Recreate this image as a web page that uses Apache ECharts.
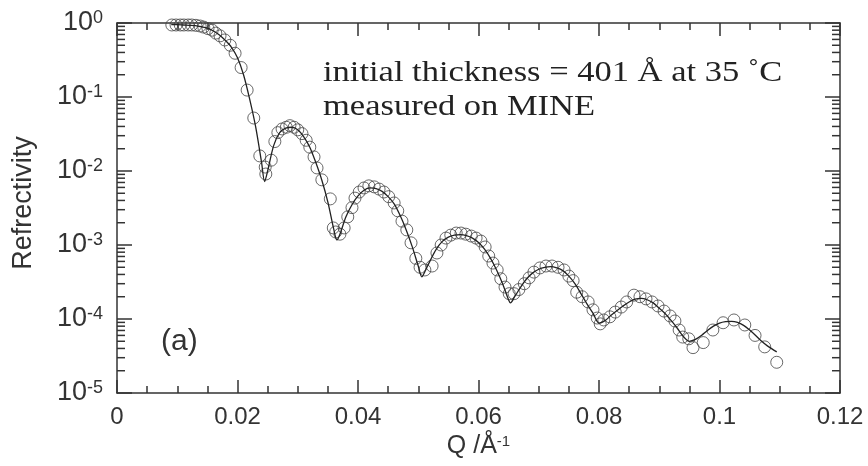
<!DOCTYPE html>
<html>
<head>
<meta charset="utf-8">
<script src="https://cdn.jsdelivr.net/npm/echarts@6/dist/echarts.min.js"></script>
<style>
  html, body { margin: 0; padding: 0; background: #fff; }
  #main { width: 868px; height: 466px; }
</style>
</head>
<body>
<div id="main"></div>
<script>
// measured reflectivity (circles)
var dataQ = [0.0091, 0.0098, 0.0105, 0.0111, 0.0118, 0.0124, 0.0131, 0.0138, 0.0144, 0.0151,
    0.0158, 0.0164, 0.0171, 0.0179, 0.0188, 0.0196, 0.0206, 0.0216, 0.0227, 0.0237,
    0.0246, 0.0247, 0.0256, 0.0262, 0.0267, 0.0274, 0.0281, 0.0287, 0.0294, 0.0300,
    0.0307, 0.0314, 0.0320, 0.0327, 0.0332, 0.0340, 0.0354, 0.0359, 0.0363, 0.0370,
    0.0377, 0.0383, 0.0390, 0.0395, 0.0402, 0.0410, 0.0418, 0.0427, 0.0435, 0.0443,
    0.0451, 0.0460, 0.0466, 0.0473, 0.0481, 0.0488, 0.0496, 0.0503, 0.0511, 0.0523,
    0.0531, 0.0538, 0.0546, 0.0554, 0.0563, 0.0571, 0.0579, 0.0588, 0.0596, 0.0604,
    0.0611, 0.0617, 0.0624, 0.0631, 0.0637, 0.0644, 0.0651, 0.0659, 0.0667, 0.0676,
    0.0684, 0.0692, 0.0702, 0.0712, 0.0722, 0.0732, 0.0742, 0.0750, 0.0757, 0.0763,
    0.0772, 0.0782, 0.0790, 0.0797, 0.0802, 0.0808, 0.0818, 0.0827, 0.0837, 0.0846,
    0.0858, 0.0868, 0.0878, 0.0888, 0.0898, 0.0908, 0.0918, 0.0926, 0.0933, 0.0939,
    0.0949, 0.0956, 0.0973, 0.0989, 0.1006, 0.1024, 0.1042, 0.1059, 0.1075, 0.1095];
var dataR = [0.94, 0.94, 0.94, 0.94, 0.94, 0.94, 0.93, 0.91, 0.88, 0.84,
    0.80, 0.73, 0.67, 0.59, 0.50, 0.39, 0.25, 0.124, 0.052, 0.016,
    0.0113, 0.0091, 0.014, 0.025, 0.033, 0.037, 0.039, 0.041, 0.039, 0.036,
    0.032, 0.026, 0.021, 0.0155, 0.011, 0.0076, 0.0042, 0.0017, 0.0015, 0.0014,
    0.0017, 0.0024, 0.0032, 0.0043, 0.0052, 0.0059, 0.0063, 0.0061, 0.0057, 0.0052,
    0.0045, 0.0037, 0.0029, 0.0021, 0.0016, 0.00107, 0.00066, 0.00050, 0.00046, 0.00052,
    0.00078, 0.0010, 0.00124, 0.00136, 0.00145, 0.00145, 0.0014, 0.00132, 0.00124, 0.00113,
    0.00094, 0.00071, 0.00057, 0.00046, 0.00035, 0.00027, 0.00022, 0.00022, 0.00025, 0.00030,
    0.00036, 0.00043, 0.00049, 0.00052, 0.00052, 0.00050, 0.00046, 0.00038, 0.00033, 0.00023,
    0.00020, 0.00017, 0.000133, 0.000103, 0.000086, 0.000097, 0.000107, 0.000124, 0.000145, 0.00017,
    0.00021, 0.00020, 0.000187, 0.00017, 0.00015, 0.000128, 0.00011, 0.000094, 0.000071, 0.000057,
    0.000054, 0.000041, 0.000048, 0.000071, 0.000089, 0.000097, 0.000083, 0.000060, 0.000042, 0.000026];

// fitted curve (solid line)
var fitQ = [0.009, 0.010, 0.011, 0.012, 0.013, 0.014, 0.015, 0.016, 0.017, 0.018,
    0.019, 0.020, 0.021, 0.022, 0.023, 0.024, 0.0245, 0.025, 0.026, 0.027,
    0.028, 0.029, 0.030, 0.031, 0.032, 0.033, 0.034, 0.035, 0.036, 0.0365,
    0.037, 0.038, 0.039, 0.040, 0.041, 0.042, 0.043, 0.044, 0.045, 0.046,
    0.047, 0.048, 0.049, 0.050, 0.0506, 0.051, 0.052, 0.053, 0.054, 0.055,
    0.056, 0.057, 0.058, 0.059, 0.060, 0.061, 0.062, 0.063, 0.064, 0.065,
    0.0653, 0.066, 0.067, 0.068, 0.069, 0.070, 0.071, 0.072, 0.073, 0.074,
    0.075, 0.076, 0.077, 0.078, 0.079, 0.080, 0.081, 0.082, 0.083, 0.084,
    0.085, 0.086, 0.087, 0.088, 0.089, 0.090, 0.091, 0.092, 0.093, 0.094,
    0.095, 0.096, 0.097, 0.098, 0.099, 0.100, 0.101, 0.102, 0.103, 0.104,
    0.105, 0.106, 0.107, 0.108, 0.1095];
var fitR = [0.95, 0.95, 0.94, 0.93, 0.92, 0.89, 0.85, 0.78, 0.69, 0.58,
    0.47, 0.34, 0.20, 0.095, 0.040, 0.013, 0.0072, 0.010, 0.022, 0.033,
    0.038, 0.039, 0.036, 0.029, 0.021, 0.013, 0.0075, 0.0038, 0.0016, 0.00117,
    0.0014, 0.0024, 0.0035, 0.0046, 0.0055, 0.0059, 0.0058, 0.0053, 0.0045, 0.0036,
    0.0025, 0.0016, 0.00095, 0.00052, 0.00037, 0.00042, 0.00062, 0.00088, 0.00112, 0.00128,
    0.00136, 0.00138, 0.00134, 0.00124, 0.00108, 0.00088, 0.00066, 0.00046, 0.00030, 0.00018,
    0.000165, 0.00020, 0.00027, 0.00035, 0.00042, 0.00047, 0.00050, 0.00051, 0.00049, 0.00045,
    0.00038, 0.00030, 0.00022, 0.00016, 0.00012, 0.000088, 0.000095, 0.000112, 0.00013, 0.00015,
    0.00017, 0.000185, 0.00019, 0.000182, 0.000165, 0.00014, 0.000118, 0.000095, 0.000075, 0.000058,
    0.000050, 0.000053, 0.000060, 0.000070, 0.000080, 0.000088, 0.000092, 0.000093, 0.000090, 0.000082,
    0.000071, 0.000060, 0.000050, 0.000043, 0.000036];

// log axis minor ticks: mantissas 2..9 in each decade
var decades = [1e-5, 1e-4, 1e-3, 1e-2, 1e-1];
var mantissas = [2, 3, 4, 5, 6, 7, 8, 9];

var noteLines = ['initial thickness = 401 Å at 35 ˚C', 'measured on MINE'];
var panelTag = '(a)';

var minorVals = [];
decades.forEach(function (d) {
    mantissas.forEach(function (m) { minorVals.push([0, m * d]); });
});

var axisColor = '#333';
var labelFont = 'Liberation Sans';

var myChart = echarts.init(document.getElementById('main'));

// fresh axis objects each call, onZero off so the mirrored axes stay on their own side
function xAxisOpt(pos) {
    return {
        type: 'value',
        position: pos,
        min: 0,
        max: 0.12,
        interval: 0.02,
        splitLine: { show: false },
        axisLine: { show: true, onZero: false, lineStyle: { color: axisColor, width: 1.5 } },
        axisTick: { show: true, inside: true, length: 13, lineStyle: { color: axisColor, width: 1.5 } },
        minorTick: { show: true, splitNumber: 4, length: 7, lineStyle: { color: axisColor, width: 1.5 } },
        axisLabel: { show: false }
    };
}
function yAxisOpt(pos) {
    return {
        type: 'log',
        position: pos,
        logBase: 10,
        min: 1e-5,
        max: 1,
        splitLine: { show: false },
        axisLine: { show: true, onZero: false, lineStyle: { color: axisColor, width: 1.5 } },
        axisTick: { show: true, inside: true, length: 15, lineStyle: { color: axisColor, width: 1.5 } },
        axisLabel: { show: false }
    };
}

var xBottom = xAxisOpt('bottom');
xBottom.name = 'Q /Å{s|-1}';
xBottom.nameLocation = 'middle';
xBottom.nameGap = 40;
xBottom.nameTextStyle = {
    color: axisColor, fontFamily: labelFont, fontSize: 25,
    rich: { s: { fontSize: 15, verticalAlign: 'top', fontFamily: labelFont, color: axisColor } }
};
xBottom.axisLabel = { show: true, color: axisColor, fontFamily: labelFont, fontSize: 24, margin: 12 };

var yLeft = yAxisOpt('left');
yLeft.name = 'Refrectivity';
yLeft.nameLocation = 'middle';
yLeft.nameGap = 80;
yLeft.nameTextStyle = { color: axisColor, fontFamily: labelFont, fontSize: 27, padding: [0, 0, 0, 10] };
yLeft.axisLabel = {
    show: true,
    margin: 14,
    formatter: function (v) {
        var e = Math.round(Math.log(v) / Math.LN10);
        return '{b|10}{s|' + e + '}';
    },
    rich: {
        b: { fontSize: 27, fontFamily: labelFont, color: axisColor },
        s: { fontSize: 18, fontFamily: labelFont, color: axisColor, verticalAlign: 'top' }
    }
};

// draws a short inward tick at one edge of the grid for each minor value
function minorTickSeries(atQ, dir) {
    return {
        type: 'custom',
        xAxisIndex: 0,
        yAxisIndex: 0,
        silent: true,
        clip: false,
        z: 5,
        data: minorVals,
        renderItem: function (params, api) {
            var p = api.coord([atQ, api.value(1)]);
            return {
                type: 'line',
                shape: { x1: p[0], y1: p[1], x2: p[0] + dir * 8, y2: p[1] },
                style: { stroke: axisColor, lineWidth: 1.5 }
            };
        }
    };
}

option = {
    backgroundColor: '#fff',
    animation: false,
    grid: { left: 117, right: 28, top: 23, bottom: 73 },
    xAxis: [xBottom, xAxisOpt('top')],
    yAxis: [yLeft, yAxisOpt('right')],
    graphic: [
        {
            type: 'text', left: 323, top: 56,
            scaleX: 1.15,
            style: {
                text: noteLines.join('\n'),
                font: '30px "Liberation Serif"',
                lineHeight: 34,
                fill: '#222'
            }
        },
        {
            type: 'text', left: 161, top: 327,
            style: { text: panelTag, font: '30px "Liberation Sans"', fill: '#333' }
        }
    ],
    series: [
        minorTickSeries(0, 1),
        minorTickSeries(0.12, -1),
        {
            name: 'fit',
            type: 'line',
            showSymbol: false,
            smooth: 0.3,
            lineStyle: { color: '#222', width: 1.3 },
            data: fitQ.map(function (q, i) { return [q, fitR[i]]; })
        },
        {
            name: 'data',
            type: 'scatter',
            symbol: 'circle',
            symbolSize: 12,
            itemStyle: { color: 'rgba(0,0,0,0)', borderColor: '#444', borderWidth: 1 },
            data: dataQ.map(function (q, i) { return [q, dataR[i]]; })
        }
    ]
};
myChart.setOption(option);
</script>
</body>
</html>
